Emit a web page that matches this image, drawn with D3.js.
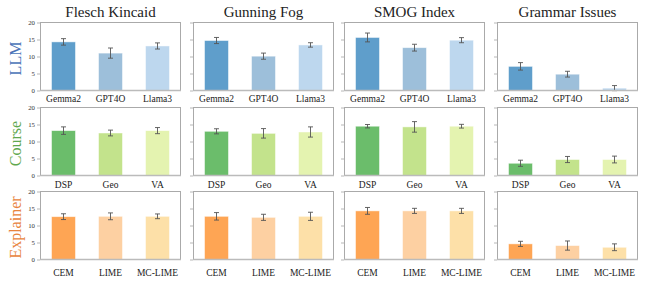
<!DOCTYPE html>
<html><head><meta charset="utf-8">
<script src="https://cdn.jsdelivr.net/npm/d3@7"></script>
<style>body{margin:0;background:#fff}svg{display:block}
svg text{font-family:"Liberation Serif","DejaVu Serif","Times New Roman",serif;}</style>
</head><body><svg id="c" width="648" height="281"></svg>
<script>
const metrics = ["Flesch Kincaid", "Gunning Fog", "SMOG Index", "Grammar Issues"];
const groups = ["LLM", "Course", "Explainer"];
const groupColors = ["#4a74b8", "#5fa84e", "#e8843c"];
const llmCats = ["Gemma2", "GPT4O", "Llama3"];
const courseCats = ["DSP", "Geo", "VA"];
const explainerCats = ["CEM", "LIME", "MC-LIME"];
const llmColors = ["#5f9ecb", "#9dbfda", "#bdd7ee"];
const courseColors = ["#6bbd6b", "#c3e38c", "#e4f3b0"];
const explainerColors = ["#fea554", "#fdd0a2", "#fde0a8"];
// values[metric][category]
const llmValues = [[14.3, 11.0, 13.1], [14.7, 10.1, 13.4], [15.6, 12.6, 14.8], [7.1, 4.8, 0.7]];
const llmErrors = [[0.95, 1.5, 0.9], [0.9, 0.9, 0.65], [1.3, 1.0, 0.75], [1.1, 0.85, 0.75]];
const courseValues = [[13.2, 12.5, 13.2], [13.0, 12.4, 12.8], [14.5, 14.3, 14.5], [3.6, 4.7, 4.7]];
const courseErrors = [[1.1, 0.85, 0.9], [0.75, 1.4, 1.5], [0.5, 1.55, 0.55], [0.9, 0.9, 1.0]];
const explainerValues = [[12.6, 12.7, 12.7], [12.7, 12.4, 12.7], [14.3, 14.3, 14.3], [4.6, 4.1, 3.6]];
const explainerErrors = [[0.85, 1.0, 0.7], [1.1, 0.9, 1.2], [1.0, 0.75, 0.75], [0.75, 1.35, 1.0]];
const yTicks = [0, 5, 10, 15, 20];

const rowsData = [
  {cats: llmCats, colors: llmColors, vals: llmValues, errs: llmErrors},
  {cats: courseCats, colors: courseColors, vals: courseValues, errs: courseErrors},
  {cats: explainerCats, colors: explainerColors, vals: explainerValues, errs: explainerErrors}
];

const svg = d3.select("#c");
const colX = [40, 193, 344, 497];
const panelW = 141;
const rowTop = [22, 107, 191];
const panelH = 69;
const labelOff = [10.5, 11.5, 15.5];

const y0 = d3.scaleLinear().domain([0, 20]);

metrics.forEach((m, c) => {
  svg.append("text").attr("x", colX[c] + panelW / 2).attr("y", 17)
    .attr("text-anchor", "middle").style("font-size", "15px")
    .attr("fill", "#222").text(m);
});

groups.forEach((g, r) => {
  const cy = rowTop[r] + panelH / 2 + 2;
  svg.append("text").attr("transform", `translate(21,${cy}) rotate(-90)`)
    .attr("text-anchor", "middle").style("font-size", "16px")
    .attr("fill", groupColors[r]).text(g);
});

rowsData.forEach((rd, r) => {
  metrics.forEach((m, c) => {
    const x0 = colX[c], top = rowTop[r];
    const y = y0.copy().range([top + panelH - 0.5, top + 0.5]);
    const x = d3.scaleBand().domain(rd.cats).range([x0, x0 + panelW])
      .paddingInner(0.49).paddingOuter(0.245);
    const gp = svg.append("g");
    const ax = d3.axisLeft(y).tickValues(yTicks).tickSize(3).tickPadding(2)
      .tickFormat(c === 0 ? d3.format("d") : () => "");
    const ag = gp.append("g").attr("transform", `translate(${x0},0)`).call(ax);
    ag.attr("font-family", null).attr("font-size", null);
    ag.select(".domain").remove();
    ag.selectAll("line").attr("stroke", "#999").attr("stroke-width", 0.7);
    ag.selectAll("text").style("font-size", "6.8px").attr("fill", "#333");
    gp.selectAll("rect.bar").data(rd.cats).join("rect").attr("class", "bar")
      .attr("x", d => x(d)).attr("width", x.bandwidth())
      .attr("y", (d, i) => y(rd.vals[c][i]))
      .attr("height", (d, i) => y(0) - y(rd.vals[c][i]))
      .attr("fill", (d, i) => rd.colors[i])
      .attr("stroke", "#ffffff").attr("stroke-opacity", 0.6).attr("stroke-width", 0.8);
    const eg = gp.selectAll("g.err").data(rd.cats).join("g").attr("class", "err");
    eg.append("line")
      .attr("x1", d => x(d) + x.bandwidth() / 2).attr("x2", d => x(d) + x.bandwidth() / 2)
      .attr("y1", (d, i) => y(rd.vals[c][i] + rd.errs[c][i]))
      .attr("y2", (d, i) => y(Math.max(0, rd.vals[c][i] - rd.errs[c][i])));
    [1, -1].forEach(s => {
      eg.append("line")
        .attr("x1", d => x(d) + x.bandwidth() / 2 - 2.5).attr("x2", d => x(d) + x.bandwidth() / 2 + 2.5)
        .attr("y1", (d, i) => y(rd.vals[c][i] + s * rd.errs[c][i]))
        .attr("y2", (d, i) => y(rd.vals[c][i] + s * rd.errs[c][i]));
    });
    eg.selectAll("line").attr("stroke", "#555").attr("stroke-width", 0.9);
    gp.append("rect").attr("x", x0 + 0.5).attr("y", top + 0.5)
      .attr("width", panelW - 1).attr("height", panelH - 1)
      .attr("fill", "none").attr("stroke", "#aaa").attr("stroke-width", 1);
    gp.append("line").attr("x1", x0).attr("x2", x0 + panelW)
      .attr("y1", top + panelH - 0.5).attr("y2", top + panelH - 0.5)
      .attr("stroke", "#bbb").attr("stroke-width", 1.4);
    gp.selectAll("text.xl").data(rd.cats).join("text").attr("class", "xl")
      .attr("x", d => x(d) + x.bandwidth() / 2).attr("y", top + panelH + labelOff[r])
      .attr("text-anchor", "middle").style("font-size", "9.5px")
      .attr("fill", "#222").text(d => d);
  });
});
</script></body></html>
